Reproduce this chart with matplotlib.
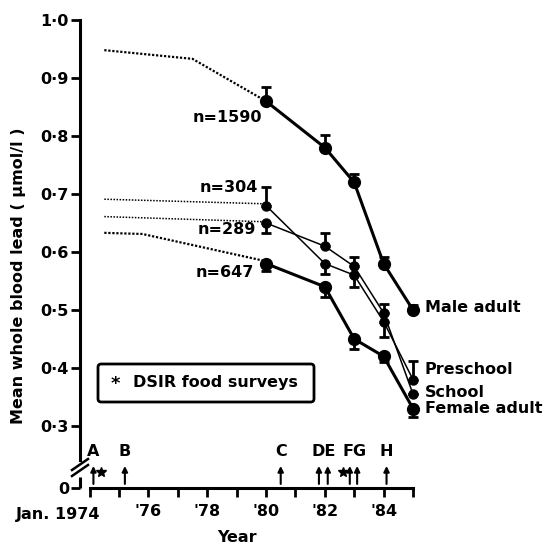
import matplotlib
matplotlib.use("Agg")
import matplotlib.pyplot as plt
from matplotlib.patches import FancyBboxPatch
from matplotlib.lines import Line2D

plt.rcParams['font.family'] = ['DejaVu Sans']
plt.rcParams['font.weight'] = 'bold'

# ---------------- data ----------------
years = [1980, 1982, 1983, 1984, 1985]
male = [0.86, 0.78, 0.72, 0.58, 0.50]
male_err_up = [0.024, 0.022, 0.014, 0.011, 0.008]

pre = [0.68, 0.58, 0.56, 0.48, 0.38]
pre_err_lo = [0.0, 0.018, 0.020, 0.027, 0.0]
pre_err_up = [0.032, 0.0, 0.0, 0.0, 0.032]

sch = [0.65, 0.61, 0.575, 0.495, 0.355]
sch_err_lo = [0.018, 0.0, 0.0, 0.0, 0.0]
sch_err_up = [0.0, 0.022, 0.017, 0.015, 0.0]

fem = [0.58, 0.54, 0.45, 0.42, 0.33]
fem_err_lo = [0.012, 0.018, 0.018, 0.010, 0.015]

# dotted extrapolations back to 1974
male_dot_x = [1974.5, 1977.5, 1980]
male_dot_y = [0.948, 0.933, 0.86]
pre_dot_x = [1974.5, 1980]
pre_dot_y = [0.691, 0.683]
sch_dot_x = [1974.5, 1980]
sch_dot_y = [0.661, 0.652]
fem_dot_x = [1974.5, 1975.8, 1980]
fem_dot_y = [0.633, 0.631, 0.584]

sample_labels = ["n=1590", "n=304", "n=289", "n=647"]
series_labels = ["Male adult", "Preschool", "School", "Female adult"]

event_letters = ["A", "B", "C", "DE", "FG", "H"]
event_letter_x = [1974.13, 1975.2, 1980.5, 1981.97, 1983.0, 1984.1]
event_arrow_x = [1974.13, 1975.2, 1980.5, 1981.8, 1982.1, 1982.85, 1983.1, 1984.1]
survey_x = [1974.38, 1982.62]

ytick_vals = [0.193, 0.3, 0.4, 0.5, 0.6, 0.7, 0.8, 0.9, 1.0]
ytick_labels = ["0", "0·3", "0·4", "0·5", "0·6", "0·7", "0·8", "0·9", "1·0"]
xtick_vals = list(range(1974, 1986))
xtick_labels = ["", "", "'76", "", "'78", "", "'80", "", "'82", "", "'84", ""]

# ---------------- figure ----------------
W, H = 545, 546
fig = plt.figure(figsize=(W / 100, H / 100), dpi=100)
ax = fig.add_axes([80 / W, 1 - 488 / H, (413 - 80) / W, (488 - 20) / H])
X0 = 1985 - (413 - 80) / 29.4
ax.set_xlim(X0, 1985)
ax.set_ylim(0.193, 1.0)

def px2x(px):
    return X0 + (px - 80) / 29.4

def py2y(py):
    return 1.0 - (py - 20) / 580.0

fs = 11.5
k = 'black'

# dotted lines
ax.plot(male_dot_x, male_dot_y, color=k, lw=1.6, ls=(0, (1, 0.8)), clip_on=False)
ax.plot(pre_dot_x, pre_dot_y, color=k, lw=1.1, ls=(0, (1, 1)), clip_on=False)
ax.plot(sch_dot_x, sch_dot_y, color=k, lw=1.1, ls=(0, (1, 1)), clip_on=False)
ax.plot(fem_dot_x, fem_dot_y, color=k, lw=1.6, ls=(0, (1, 0.8)), clip_on=False)

eb = dict(color=k, capsize=3.5, capthick=2, elinewidth=2, marker='o', clip_on=False)
ax.errorbar(years, male, yerr=[[0] * 5, male_err_up], lw=2.2, ms=8.5, **eb)
ax.errorbar(years, pre, yerr=[pre_err_lo, pre_err_up], lw=1.1, ms=6.5, **eb)
ax.errorbar(years, sch, yerr=[sch_err_lo, sch_err_up], lw=1.1, ms=6.5, **eb)
ax.errorbar(years, fem, yerr=[fem_err_lo, [0] * 5], lw=2.2, ms=8.5, **eb)

# sample-size labels
ax.text(px2x(262), py2y(118), sample_labels[0], ha='right', va='center', fontsize=fs)
ax.text(px2x(258), py2y(188), sample_labels[1], ha='right', va='center', fontsize=fs)
ax.text(px2x(256), py2y(230), sample_labels[2], ha='right', va='center', fontsize=fs)
ax.text(px2x(254), py2y(273), sample_labels[3], ha='right', va='center', fontsize=fs)

# series labels
for lab, py in zip(series_labels, [308, 370, 393, 409]):
    ax.text(px2x(425), py2y(py), lab, ha='left', va='center', fontsize=fs, clip_on=False)

# events
for lab, x in zip(event_letters, event_letter_x):
    ax.text(x, py2y(452), lab, ha='center', va='center', fontsize=fs)
for x in event_arrow_x:
    ax.annotate('', xy=(x, py2y(466)), xytext=(x, py2y(484)),
                arrowprops=dict(arrowstyle='-|>', lw=1.5, color=k, mutation_scale=8,
                                shrinkA=0, shrinkB=0))
ax.plot(survey_x, [py2y(472)] * 2, ls='none', marker='*', ms=7, color=k, clip_on=False)

# legend box
box = FancyBboxPatch((98 / W, 1 - 402 / H), (314 - 98) / W, (402 - 364) / H,
                     boxstyle='round,pad=0,rounding_size=0.006', transform=fig.transFigure,
                     fc='white', ec=k, lw=2)
fig.patches.append(box)
fig.text(115 / W, 1 - 384 / H, '*', ha='center', va='center', fontsize=13)
fig.text(133 / W, 1 - 383 / H, 'DSIR food surveys', ha='left', va='center', fontsize=fs)

# axes styling
for s in ['top', 'right']:
    ax.spines[s].set_visible(False)
ax.spines['left'].set_linewidth(2.2)
ax.spines['bottom'].set_linewidth(2.2)
ax.spines['left'].set_bounds(py2y(460), 1.0)
ax.spines['bottom'].set_bounds(1974, 1985)
ax.plot([X0, X0], [py2y(477), 0.193], color=k, lw=2.2, clip_on=False, solid_capstyle='butt')
# break marks
for dy in (0, 6):
    fig.add_artist(Line2D([72 / W, 88 / W], [1 - (476 + dy - 6) / H, 1 - (465 + dy - 6) / H],
                          color=k, lw=1.8, transform=fig.transFigure))

ax.set_yticks(ytick_vals)
ax.set_yticklabels(ytick_labels, fontsize=fs)
ax.set_xticks(xtick_vals)
ax.set_xticklabels(xtick_labels, fontsize=fs)
ax.tick_params(axis='both', direction='out', length=6.5, width=2, color=k)
ax.tick_params(axis='y', pad=1.5)
ax.tick_params(axis='x', pad=5)

fig.text(100 / W, 1 - 515 / H, 'Jan. 1974', ha='right', va='center', fontsize=fs)
fig.text(237 / W, 1 - 538 / H, 'Year', ha='center', va='center', fontsize=fs)
fig.text(19 / W, 1 - 276 / H, 'Mean whole blood lead ( μmol/l )', ha='center', va='center',
         rotation=90, fontsize=fs)

fig.savefig('out.png', dpi=100)
